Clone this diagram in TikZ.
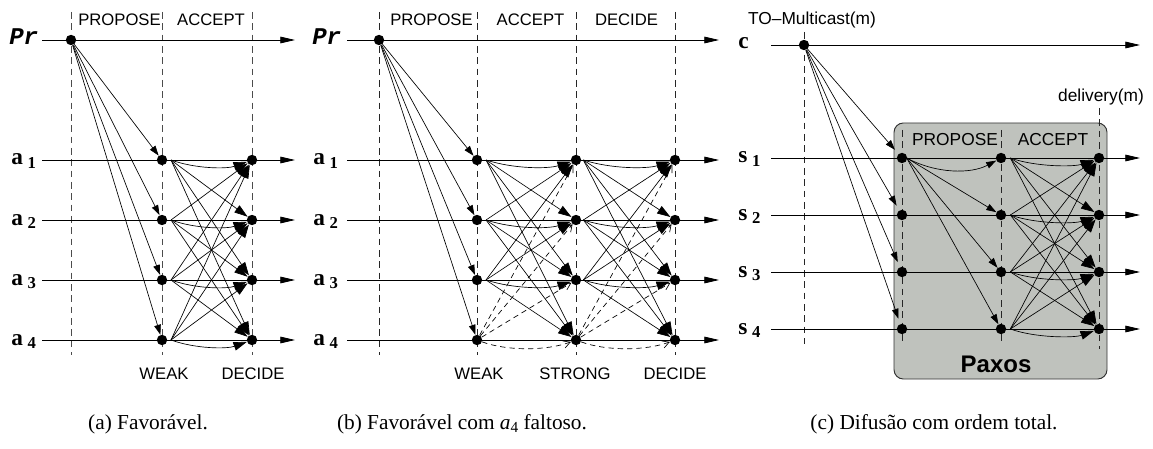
\documentclass[tikz,border=0pt]{standalone}
\usepackage{fontspec}
\setmainfont{Liberation Serif}
\setsansfont{Liberation Sans}
\setmonofont{Liberation Mono}
\usetikzlibrary{arrows.meta}
\definecolor{paxgray}{RGB}{191,194,189}
\newcommand{\pname}[2]{{\fontsize{17.5}{17.5}\selectfont\bfseries #1}\hspace{3.5pt}\raisebox{-2.5pt}{\fontsize{12.5}{12.5}\selectfont\bfseries #2}}
\tikzset{
  x=0.75pt, y=-0.75pt,
  dot/.style={circle, fill=black, inner sep=0pt, minimum size=7.8pt},
  axis/.style={line width=0.6pt, -{Triangle[length=11pt,width=5pt]}},
  phase/.style={line width=0.6pt, dash pattern=on 5pt off 3.5pt, draw=black!70},
  msg/.style={line width=0.5pt, -{Triangle[length=7.5pt,width=5pt]}},
  big/.style={line width=0.5pt, -{Triangle[length=10pt,width=6.5pt]}},
  lost/.style={line width=0.5pt, dash pattern=on 4pt off 3pt, -{Straight Barb[length=5pt,width=5.5pt]}},
  hdr/.style={font=\sffamily\fontsize{12.5}{14}\selectfont, inner sep=0pt},
  hdrc/.style={font=\sffamily\fontsize{13}{15}\selectfont, inner sep=0pt},
  plab/.style={inner sep=0pt, anchor=base west},
  capt/.style={font=\fontsize{16}{18}\selectfont, inner sep=0pt},
}
\begin{document}
\begin{tikzpicture}
\useasboundingbox (0,0) rectangle (1153,449);

% ================= panel (a) =================
\foreach \x [count=\k] in {71,162,252} {
  \coordinate (aT\k) at (\x,12); \coordinate (aB\k) at (\x,355);
  \draw[phase] (aT\k) -- (aB\k);
}
\coordinate (aLP) at (42,40); \coordinate (aRP) at (295,40);
\draw[axis] (aLP) -- (aRP);
\node[plab] (alabP) at (9,45) {\ttfamily\bfseries\itshape\fontsize{18}{18}\selectfont Pr};
\node[dot] (aP) at (71,40) {};
\foreach \i/\y in {1/160,2/220,3/280,4/340} {
  \coordinate (aL\i) at (42,\y); \coordinate (aR\i) at (295,\y);
  \draw[axis] (aL\i) -- (aR\i);
  \node[plab] (alab\i) at (11,\y+5) {\pname{a}{\i}};
  \node[dot] (aw\i) at (162,\y) {};
  \node[dot] (ad\i) at (252,\y) {};
  \coordinate (awo\i) at ([xshift=6.75pt]aw\i.center);
}
\node[hdr] (ah1) at (119.5,20) {PROPOSE};
\node[hdr] (ah2) at (211,20) {ACCEPT};
\node[hdr] (af1) at (164,374) {WEAK};
\node[hdr] (af2) at (253,374) {DECIDE};
\foreach \i in {1,...,4} { \draw[msg] (aP) -- (aw\i); }
\foreach \i in {1,...,4} {
  \foreach \j in {1,...,4} {
    \ifnum\i=\j
      \draw[big] (awo\i) .. controls ([shift={(25,9)}]awo\i) and ([shift={(-25,9)}]ad\j.center) .. (ad\j);
    \else
      \draw[big] (awo\i) -- (ad\j);
    \fi
  }
}

% ================= panel (b) =================
\begin{scope}[phase/.append style={draw=black!85}]
\foreach \x [count=\k] in {379,477,576,675} {
  \coordinate (bT\k) at (\x,12); \coordinate (bB\k) at (\x,355);
  \draw[phase] (bT\k) -- (bB\k);
}
\end{scope}
\coordinate (bLP) at (347,40); \coordinate (bRP) at (719,40);
\draw[axis] (bLP) -- (bRP);
\node[plab] (blabP) at (312,45) {\ttfamily\bfseries\itshape\fontsize{18}{18}\selectfont Pr};
\node[dot] (bP) at (379,40) {};
\foreach \i/\y in {1/160,2/220,3/280,4/340} {
  \coordinate (bL\i) at (347,\y); \coordinate (bR\i) at (719,\y);
  \draw[axis] (bL\i) -- (bR\i);
  \node[plab] (blab\i) at (313,\y+5) {\pname{a}{\i}};
  \node[dot] (bw\i) at (477,\y) {};
  \node[dot] (bs\i) at (576,\y) {};
  \node[dot] (bd\i) at (675,\y) {};
  \coordinate (bwo\i) at ([xshift=6.75pt]bw\i.center);
  \coordinate (bso\i) at ([xshift=5.5pt]bs\i.center);
}
\node[hdr] (bh1) at (431.5,20) {PROPOSE};
\node[hdr] (bh2) at (530.5,20) {ACCEPT};
\node[hdr] (bh3) at (626.5,20) {DECIDE};
\node[hdr] (bf1) at (479,374) {WEAK};
\node[hdr] (bf2) at (575,374) {STRONG};
\node[hdr] (bf3) at (675,374) {DECIDE};
\foreach \i in {1,...,4} { \draw[msg] (bP) -- (bw\i); }
\foreach \i in {1,...,3} {
  \foreach \j in {1,...,4} {
    \ifnum\i=\j
      \draw[big] (bwo\i) .. controls ([shift={(28,9)}]bwo\i) and ([shift={(-28,9)}]bs\j.center) .. (bs\j);
      \draw[big] (bso\i) .. controls ([shift={(28,9)}]bso\i) and ([shift={(-28,9)}]bd\j.center) .. (bd\j);
    \else
      \draw[big] (bwo\i) -- (bs\j);
      \draw[big] (bso\i) -- (bd\j);
    \fi
  }
}
\foreach \j in {1,...,3} {
  \draw[lost] (bw4) -- (bs\j);
  \draw[lost] (bs4) -- (bd\j);
}
\draw[lost] (bw4) .. controls ([shift={(30,11)}]bw4.center) and ([shift={(-30,11)}]bs4.center) .. (bs4);
\draw[lost] (bs4) .. controls ([shift={(30,11)}]bs4.center) and ([shift={(-30,11)}]bd4.center) .. (bd4);

% ================= panel (c) =================
\node[draw=black!80, line width=0.7pt, fill=paxgray, rounded corners=7pt,
      minimum width=159.75pt, minimum height=192pt, inner sep=0pt] (box) at (1000.5,251) {};
\begin{scope}[phase/.append style={draw=black!85}]
\coordinate (cT0) at (804,32); \coordinate (cB0) at (804,344);
\draw[phase] (cT0) -- (cB0);
\coordinate (cT1) at (902,130); \coordinate (cB1) at (902,344);
\draw[phase] (cT1) -- (cB1);
\coordinate (cT2) at (1001,130); \coordinate (cB2) at (1001,344);
\draw[phase] (cT2) -- (cB2);
\coordinate (cT3) at (1099,108); \coordinate (cB3) at (1099,349);
\draw[phase] (cT3) -- (cB3);
\end{scope}
\coordinate (cLC) at (771,45); \coordinate (cRC) at (1140,45);
\draw[axis] (cLC) -- (cRC);
\node[plab] (clabC) at (738,49) {\fontsize{17.5}{17.5}\selectfont\bfseries c};
\node[dot] (cC) at (804,45) {};
\foreach \i/\y in {1/158,2/215,3/272,4/329} {
  \coordinate (cL\i) at (771,\y); \coordinate (cR\i) at (1140,\y);
  \draw[axis] (cL\i) -- (cR\i);
  \node[plab] (clab\i) at (738,\y+5) {\pname{s}{\i}};
  \node[dot] (cp\i) at (902,\y) {};
  \node[dot] (ca\i) at (1001,\y) {};
  \node[dot] (cd\i) at (1099,\y) {};
  \coordinate (cao\i) at ([xshift=7pt]ca\i.center);
}
\coordinate (cpo) at ([xshift=3.5pt]cp1.center);
\node[hdrc] (cm) at (812,20) {TO–Multicast(m)};
\node[hdrc] (cdl) at (1101,97) {delivery(m)};
\node[hdrc] (ch1) at (955,139.5) {PROPOSE};
\node[hdrc] (ch2) at (1053,139.5) {ACCEPT};
\node[inner sep=0pt, font=\sffamily\bfseries\fontsize{18}{20}\selectfont] (pax) at (996,364.5) {Paxos};
\foreach \i in {1,...,4} { \draw[msg, shorten >=4pt] (cC) -- (cp\i); }
\draw[msg] (cpo) .. controls ([shift={(30,16)}]cpo) and ([shift={(-30,16)}]ca1.center) .. (ca1);
\foreach \j in {2,...,4} { \draw[msg] (cpo) -- (ca\j); }
\foreach \i in {1,...,4} {
  \foreach \j in {1,...,4} {
    \ifnum\i=\j
      \draw[big] (cao\i) .. controls ([shift={(25,9)}]cao\i) and ([shift={(-25,9)}]cd\j.center) .. (cd\j);
    \else
      \draw[big] (cao\i) -- (cd\j);
    \fi
  }
}

% ================= captions =================
\node[capt] (capa) at (148,424) {(a) Favorável.};
\node[capt] (capb) at (462,424) {(b) Favorável com {\itshape a}\raisebox{-2.5pt}{\fontsize{11.5}{12}\selectfont 4} faltoso.};
\node[capt] (capc) at (934,424) {(c) Difusão com ordem total.};
\end{tikzpicture}
\end{document}
